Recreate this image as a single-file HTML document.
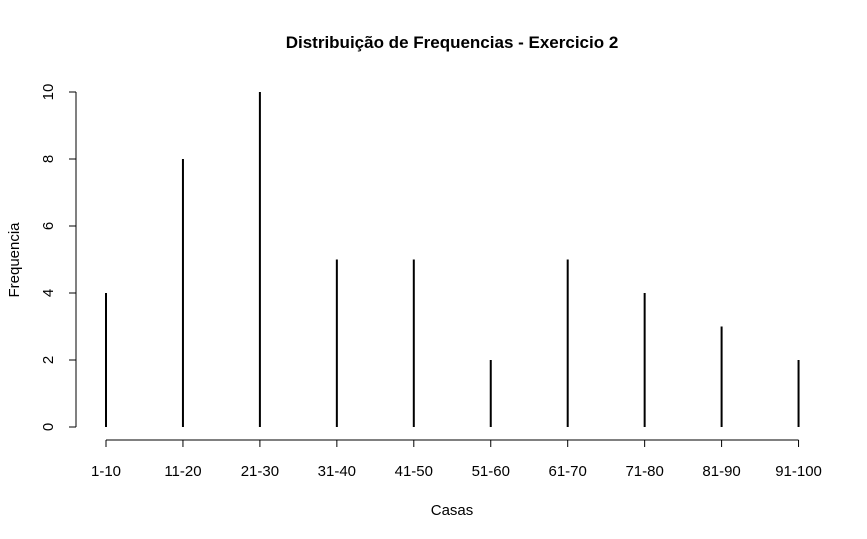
<!DOCTYPE html>
<html><head><meta charset="utf-8"><style>
body{margin:0;background:#fff;}
svg{display:block;font-family:"Liberation Sans",Arial,sans-serif;}
</style></head><body>
<svg id="chart" width="867" height="539">
<text x="452" y="48" text-anchor="middle" font-size="17" font-weight="bold">Distribuição de Frequencias - Exercicio 2</text>
<text x="452" y="515" text-anchor="middle" font-size="15">Casas</text>
<text transform="translate(19,260) rotate(-90)" text-anchor="middle" font-size="15">Frequencia</text>
<g id="yaxis"></g>
<g id="xaxis"></g>
<g id="bars"></g>
</svg>
<script>
const categories=["1-10","11-20","21-30","31-40","41-50","51-60","61-70","71-80","81-90","91-100"];
const values=[4,8,10,5,5,2,5,4,3,2];
const yTicks=[0,2,4,6,8,10];
const NS="http://www.w3.org/2000/svg";
function yScale(v){return 427-v*33.5;}
function xScale(i){return 106+i*76.95;}
function mk(tag,attrs,parent){const e=document.createElementNS(NS,tag);for(const k in attrs)e.setAttribute(k,attrs[k]);parent.appendChild(e);return e;}
const ya=document.getElementById('yaxis'),xa=document.getElementById('xaxis'),bars=document.getElementById('bars');
mk('line',{x1:76,x2:76,y1:yScale(yTicks[0]),y2:yScale(yTicks[yTicks.length-1]),stroke:'#000'},ya);
yTicks.forEach(t=>{
  mk('line',{x1:69,x2:76,y1:yScale(t),y2:yScale(t),stroke:'#000'},ya);
  const tx=mk('text',{transform:`translate(53,${yScale(t)}) rotate(-90)`,'text-anchor':'middle','font-size':15},ya);
  tx.textContent=t;
  
  
});
mk('line',{x1:xScale(0),x2:xScale(categories.length-1),y1:440,y2:440,stroke:'#000'},xa);
categories.forEach((c,i)=>{
  mk('line',{x1:xScale(i),x2:xScale(i),y1:440,y2:447,stroke:'#000'},xa);
  const tx=mk('text',{x:xScale(i),y:476,'text-anchor':'middle','font-size':15},xa);
  tx.textContent=c;
  
  
  const b=mk('line',{x1:xScale(i),x2:xScale(i),y1:yScale(0),y2:yScale(values[i]),stroke:'#000','stroke-width':2},bars);
  
  
});
</script>
</body></html>
